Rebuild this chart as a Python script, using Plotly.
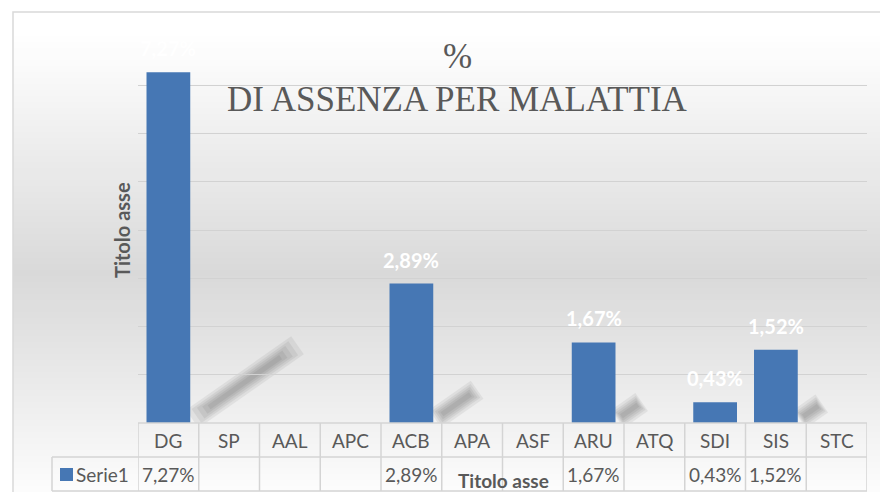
import plotly.graph_objects as go

# ---- data ----
categories = ["DG", "SP", "AAL", "APC", "ACB", "APA", "ASF", "ARU", "ATQ", "SDI", "SIS", "STC"]
values = [7.27, None, None, None, 2.89, None, None, 1.67, None, 0.43, 1.52, None]
series_name = "Serie1"
title_line1 = "%"
title_line2 = "DI ASSENZA PER MALATTIA"
axis_title = "Titolo asse"

def fmt(v):
    return "" if v is None else f"{v:.2f}".replace(".", ",") + "%"

# ---- geometry (pixels) ----
W, H = 880, 492
L, R, T, B = 138, 13, 37, 69
PW, PH = W - L - R, H - T - B
Y_MAX = 8
BARGAP = 0.28

def px_x(px):
    return (px - L) / PW

def px_y(py):
    return (H - B - py) / PH

BAR_COLOR = "#4677b4"
TEXT_GRAY = "#595959"
LINE_GRAY = "#d4d4d4"
SANS = "Lato, 'Open Sans', sans-serif"

fig = go.Figure()
fig.add_trace(go.Bar(
    x=categories, y=values, name=series_name,
    marker=dict(color=BAR_COLOR, line=dict(width=0)),
    showlegend=False, hoverinfo="skip",
))

shapes = []
# gradient background (chart area)
def gray_at(py):
    if py <= 35:
        return 255
    if py <= 275:
        return 255 - (py - 35) / (275 - 35) * 38
    return 217 + (py - 275) / (492 - 275) * 35

step = 6
py = 12
while py < H:
    g = int(round(gray_at(py + step / 2)))
    shapes.append(dict(type="rect", xref="paper", yref="paper",
                       x0=px_x(13), x1=px_x(W + 5), y0=px_y(py + step + 0.5), y1=px_y(py),
                       fillcolor=f"rgb({g},{g},{g})", line=dict(width=0), layer="below"))
    py += step

# soft diagonal shadows behind bars (decorative)
for i, v in enumerate(values):
    if v is None or v < 1:
        continue
    hpx = v / Y_MAX * PH
    dx, dy = 0.30 * hpx, 0.21 * hpx
    layers = [(22, 0.00, 1.00), (17, 0.04, 0.96), (13, 0.08, 0.92), (9, 0.12, 0.88), (5, 0.16, 0.84)]
    for w, t0, t1 in layers:
        shapes.append(dict(type="line", xref="x", yref="y", xsizemode="pixel", ysizemode="pixel",
                           xanchor=i + (1 - BARGAP) / 2, yanchor=0,
                           x0=2 + t0 * dx, y0=4 + t0 * dy, x1=2 + t1 * dx, y1=4 + t1 * dy,
                           line=dict(color="black", width=w), opacity=0.055, layer="below"))

# outer border
shapes.append(dict(type="rect", xref="paper", yref="paper",
                   x0=px_x(13), x1=px_x(W + 10), y0=px_y(H + 10), y1=px_y(12),
                   line=dict(color="#d9d9d9", width=1.5), fillcolor="rgba(0,0,0,0)", layer="above"))

# data table lines
row_top, row_mid, row_bot = 423, 457, 491
tbl_left = 52
shapes.append(dict(type="line", xref="paper", yref="paper", x0=0, x1=1, y0=px_y(row_top), y1=px_y(row_top),
                   line=dict(color=LINE_GRAY, width=1.5)))
for yy in (row_mid, row_bot):
    shapes.append(dict(type="line", xref="paper", yref="paper", x0=px_x(tbl_left), x1=1, y0=px_y(yy), y1=px_y(yy),
                       line=dict(color=LINE_GRAY, width=1.5)))
for i in range(len(categories) + 1):
    shapes.append(dict(type="line", xref="x", yref="paper", x0=i - 0.5, x1=i - 0.5,
                       y0=px_y(row_top), y1=px_y(row_bot), line=dict(color=LINE_GRAY, width=1.5)))
shapes.append(dict(type="line", xref="paper", yref="paper", x0=px_x(tbl_left), x1=px_x(tbl_left),
                   y0=px_y(row_mid), y1=px_y(row_bot), line=dict(color=LINE_GRAY, width=1.5)))
# legend key
shapes.append(dict(type="rect", xref="paper", yref="paper", x0=px_x(60), x1=px_x(73),
                   y0=px_y(481), y1=px_y(468), fillcolor=BAR_COLOR, line=dict(width=0)))

annotations = []
def ann(**kw):
    base = dict(showarrow=False, xanchor="center", yanchor="middle")
    base.update(kw)
    annotations.append(base)

# title
ann(text=title_line1, xref="paper", yref="paper", x=px_x(457), y=px_y(57),
    font=dict(family="Liberation Serif, serif", size=35, color=TEXT_GRAY))
ann(text=title_line2, xref="paper", yref="paper", x=px_x(457), y=px_y(99),
    font=dict(family="Liberation Serif, serif", size=35, color=TEXT_GRAY))
# data labels
for c, v in zip(categories, values):
    if v is not None:
        ann(text=f"<b>{fmt(v)}</b>", x=c, y=v, xref="x", yref="y", yanchor="bottom", yshift=10,
            font=dict(family=SANS, size=20, color="white"))
# table text
for c, v in zip(categories, values):
    ann(text=c, x=c, y=px_y(440), xref="x", yref="paper",
        font=dict(family=SANS, size=19, color=TEXT_GRAY))
    if v is not None:
        ann(text=fmt(v), x=c, y=px_y(474), xref="x", yref="paper",
            font=dict(family=SANS, size=19, color=TEXT_GRAY))
ann(text=series_name, x=px_x(74), y=px_y(474), xref="paper", yref="paper", xanchor="left",
    font=dict(family=SANS, size=19, color=TEXT_GRAY))
# axis titles
ann(text=f"<b>{axis_title}</b>", x=px_x(122), y=0.5, xref="paper", yref="paper", textangle=-90,
    font=dict(family=SANS, size=20, color=TEXT_GRAY))
ann(text=f"<b>{axis_title}</b>", x=px_x(503), y=px_y(480), xref="paper", yref="paper",
    font=dict(family=SANS, size=19, color=TEXT_GRAY))

fig.update_layout(
    width=W, height=H,
    margin=dict(l=L, r=R, t=T, b=B, pad=0),
    paper_bgcolor="white", plot_bgcolor="rgba(0,0,0,0)",
    bargap=BARGAP,
    shapes=shapes, annotations=annotations,
    xaxis=dict(type="category", range=[-0.5, len(categories) - 0.5], showticklabels=False,
               showgrid=False, zeroline=False, showline=False, ticks=""),
    yaxis=dict(range=[0, Y_MAX], dtick=1, showticklabels=False, showgrid=True,
               gridcolor="#d2d2d2", gridwidth=1, zeroline=False, showline=False, ticks=""),
)

fig.write_html("out.html", config={"displayModeBar": False},
               post_script="document.body.style.margin='0';document.body.style.overflow='hidden';")
